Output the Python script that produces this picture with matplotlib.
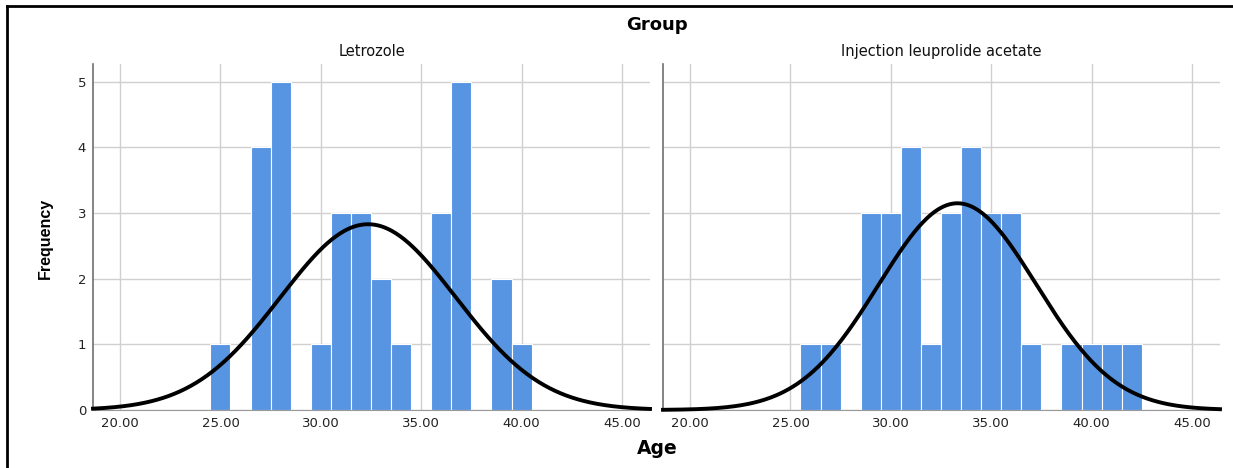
import numpy as np
import matplotlib
matplotlib.use('Agg')
import matplotlib.pyplot as plt
from matplotlib.lines import Line2D

# Age bins (width 1, centred on whole years) and their counts
letrozole_age = [25, 27, 28, 30, 31, 32, 33, 34, 36, 37, 39, 40]
letrozole_count = [1, 4, 5, 1, 3, 3, 2, 1, 3, 5, 2, 1]

leuprolide_age = [26, 27, 29, 30, 31, 32, 33, 34, 35, 36, 37, 39, 40, 41, 42]
leuprolide_count = [1, 1, 3, 3, 4, 1, 3, 4, 3, 3, 1, 1, 1, 1, 1]

groups = ['Letrozole', 'Injection leuprolide acetate']
x_ticks = [20, 25, 30, 35, 40, 45]
y_ticks = [0, 1, 2, 3, 4, 5]

BAR_COLOR = '#5795e3'
GRID_COLOR = '#d0d0d0'
SPINE_COLOR = '#707070'

plt.rcParams['font.family'] = ['DejaVu Sans']


def draw_panel(ax, ages, counts, title, show_y):
    ages = np.array(ages, dtype=float)
    counts = np.array(counts, dtype=float)
    ax.bar(ages, counts, width=1.0, color=BAR_COLOR, edgecolor='white',
           linewidth=0.8, zorder=2)

    # fitted normal curve, scaled to frequency (bin width 1)
    n = counts.sum()
    mean = (ages * counts).sum() / n
    sd = np.sqrt(((ages - mean) ** 2 * counts).sum() / (n - 1))
    xs = np.linspace(18.65, 46.4, 400)
    ys = n / (sd * np.sqrt(2 * np.pi)) * np.exp(-0.5 * ((xs - mean) / sd) ** 2)
    ax.plot(xs, ys, color='black', linewidth=2.8, zorder=3, clip_on=False)

    ax.set_xlim(18.65, 46.4)
    ax.set_ylim(0, 5.27)
    ax.set_xticks(x_ticks)
    ax.set_xticklabels(['%.2f' % t for t in x_ticks])
    ax.set_yticks(y_ticks)
    if not show_y:
        ax.set_yticklabels([])
    ax.tick_params(length=0, labelsize=9.5, colors='#222222', pad=5)
    ax.grid(True, color=GRID_COLOR, linewidth=1.0)
    ax.set_axisbelow(True)
    for side in ['top', 'right']:
        ax.spines[side].set_visible(False)
    ax.spines['left'].set_color(SPINE_COLOR)
    ax.spines['bottom'].set_color('#999999')
    ax.spines['left'].set_linewidth(1.2)
    ax.set_title(title, fontsize=10.5, pad=6, color='#111111')


fig = plt.figure(figsize=(12.33, 4.68), dpi=100)
ax1 = fig.add_axes([93 / 1233, 1 - 410 / 468, 557 / 1233, 346 / 468])
ax2 = fig.add_axes([663 / 1233, 1 - 410 / 468, 557 / 1233, 346 / 468])

draw_panel(ax1, letrozole_age, letrozole_count, groups[0], True)
draw_panel(ax2, leuprolide_age, leuprolide_count, groups[1], False)

fig.text(657 / 1233, 1 - 25 / 468, 'Group', ha='center', va='center',
         fontsize=13, fontweight='bold')
fig.text(657 / 1233, 1 - 448 / 468, 'Age', ha='center', va='center',
         fontsize=13.5, fontweight='bold')
fig.text(45 / 1233, 1 - 238 / 468, 'Frequency', ha='center', va='center',
         rotation=90, fontsize=11.5, fontweight='bold',
         family=['Liberation Sans', 'DejaVu Sans'])

# outer frame (cut off at right and bottom in the original)
fig.add_artist(Line2D([7 / 1233, 1], [1 - 6 / 468, 1 - 6 / 468],
                      color='black', linewidth=2, transform=fig.transFigure))
fig.add_artist(Line2D([7 / 1233, 7 / 1233], [0, 1 - 6 / 468],
                      color='black', linewidth=2, transform=fig.transFigure))

fig.savefig('out.png', dpi=100)
